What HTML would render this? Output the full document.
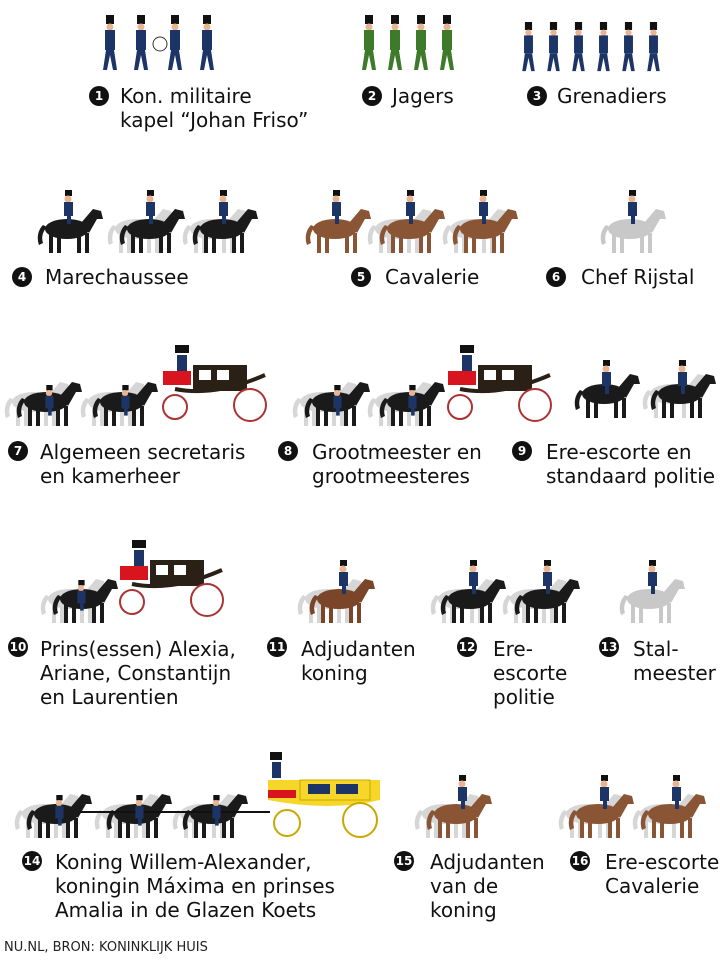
<!DOCTYPE html>
<html><head><meta charset="utf-8">
<style>
body{margin:0;width:720px;height:960px;background:#fff;position:relative;overflow:hidden;font-family:"DejaVu Sans","Liberation Sans",sans-serif;color:#111}
.l{position:absolute;font-size:20px;line-height:24px;white-space:nowrap}
.n{position:absolute;width:20px;height:20px;border-radius:50%;background:#111;color:#fff;font-size:12px;font-weight:bold;text-align:center;line-height:20px}
svg{position:absolute;left:0;top:0}
.f{position:absolute;left:4px;top:940px;font-size:13px;color:#222}
</style></head><body>
<svg width="720" height="960" viewBox="0 0 720 960">
<defs>
<symbol id="h" viewBox="0 0 70 50">
<path d="M8 20 C2 26 2 34 4 40 L8 38 C6 32 8 26 12 22Z"/>
<ellipse cx="32" cy="24" rx="22" ry="10"/>
<path d="M46 18 L58 4 L66 6 L68 14 L62 14 L54 28Z"/>
<rect x="14" y="28" width="4" height="20"/><rect x="22" y="28" width="4" height="20"/>
<rect x="42" y="28" width="4" height="20"/><rect x="50" y="28" width="4" height="20"/>
</symbol>
<symbol id="r" viewBox="0 0 20 40">
<rect x="7" y="0" width="7" height="6" fill="#111"/>
<circle cx="10" cy="9" r="3.5" fill="#e9b48f"/>
<rect x="6" y="12" width="9" height="14" fill="#1d3566"/>
<rect x="9" y="22" width="4" height="12" fill="#1d3566"/>
</symbol>
<symbol id="s" viewBox="0 0 14 56">
<rect x="3" y="0" width="8" height="9" fill="#111"/>
<circle cx="7" cy="12" r="3.5" fill="#e9b48f"/>
<rect x="2" y="15" width="10" height="20" fill="currentColor"/>
<path d="M3 35 L0 55 L4 55 L7 40 L10 55 L14 55 L11 35Z" fill="currentColor"/>
</symbol>
<symbol id="c" viewBox="0 0 120 80">
<rect x="20" y="0" width="14" height="8" fill="#111"/>
<rect x="22" y="10" width="10" height="16" fill="#1d3566"/>
<rect x="8" y="26" width="28" height="14" fill="currentColor"/>
<path d="M38 20 H92 V46 H38Z" fill="#2a2016"/>
<rect x="44" y="25" width="12" height="10" fill="#fff"/><rect x="62" y="25" width="12" height="10" fill="#fff"/>
<path d="M20 44 Q60 52 110 30" stroke="#2a2016" stroke-width="4" fill="none"/>
<circle cx="20" cy="62" r="12" fill="#fff" stroke="#a33" stroke-width="2"/>
<circle cx="95" cy="60" r="16" fill="#fff" stroke="#a33" stroke-width="2"/>
</symbol>
</defs>
<g color="#1d3566">
<use href="#s" x="103" y="15" width="14" height="56"/><use href="#s" x="134" y="15" width="14" height="56"/>
<use href="#s" x="168" y="15" width="14" height="56"/><use href="#s" x="200" y="15" width="14" height="56"/>
</g>
<circle cx="160" cy="44" r="7" fill="none" stroke="#333"/>
<g color="#3d7a2a">
<use href="#s" x="362" y="15" width="14" height="56"/><use href="#s" x="388" y="15" width="14" height="56"/>
<use href="#s" x="414" y="15" width="14" height="56"/><use href="#s" x="440" y="15" width="14" height="56"/>
</g>
<g color="#1d3566">
<use href="#s" x="522" y="22" width="13" height="50"/><use href="#s" x="547" y="22" width="13" height="50"/>
<use href="#s" x="572" y="22" width="13" height="50"/><use href="#s" x="597" y="22" width="13" height="50"/>
<use href="#s" x="622" y="22" width="13" height="50"/><use href="#s" x="647" y="22" width="13" height="50"/>
</g>
<g fill="#d6d6d6"><use href="#h" x="105" y="205" width="70" height="50"/><use href="#h" x="180" y="205" width="70" height="50"/><use href="#h" x="365" y="205" width="70" height="50"/><use href="#h" x="440" y="205" width="70" height="50"/></g>
<g fill="#1a1a1a"><use href="#h" x="35" y="205" width="70" height="50"/><use href="#h" x="117" y="205" width="70" height="50"/><use href="#h" x="190" y="205" width="70" height="50"/></g>
<g fill="#8a5535"><use href="#h" x="303" y="205" width="70" height="50"/><use href="#h" x="377" y="205" width="70" height="50"/><use href="#h" x="450" y="205" width="70" height="50"/></g>
<use href="#h" x="598" y="205" width="70" height="50" fill="#c8c8c8"/>
<g><use href="#r" x="58" y="190" width="20" height="40"/><use href="#r" x="140" y="190" width="20" height="40"/><use href="#r" x="213" y="190" width="20" height="40"/><use href="#r" x="326" y="190" width="20" height="40"/><use href="#r" x="400" y="190" width="20" height="40"/><use href="#r" x="473" y="190" width="20" height="40"/><use href="#r" x="622" y="190" width="20" height="40"/></g>
<g fill="#d6d6d6"><use href="#h" x="2" y="378" width="70" height="50"/><use href="#h" x="78" y="378" width="70" height="50"/><use href="#h" x="290" y="378" width="70" height="50"/><use href="#h" x="365" y="378" width="70" height="50"/><use href="#h" x="640" y="370" width="70" height="50"/></g>
<g fill="#1a1a1a"><use href="#h" x="14" y="378" width="70" height="50"/><use href="#h" x="90" y="378" width="70" height="50"/><use href="#h" x="302" y="378" width="70" height="50"/><use href="#h" x="377" y="378" width="70" height="50"/><use href="#h" x="572" y="370" width="70" height="50"/><use href="#h" x="648" y="370" width="70" height="50"/></g>
<use href="#c" x="155" y="345" width="120" height="80" color="#d8141e"/>
<use href="#c" x="440" y="345" width="120" height="80" color="#d8141e"/>
<g><use href="#r" x="40" y="385" width="18" height="36"/><use href="#r" x="116" y="385" width="18" height="36"/><use href="#r" x="328" y="385" width="18" height="36"/><use href="#r" x="403" y="385" width="18" height="36"/><use href="#r" x="596" y="360" width="20" height="40"/><use href="#r" x="672" y="360" width="20" height="40"/></g>
<g fill="#d6d6d6"><use href="#h" x="38" y="575" width="70" height="50"/><use href="#h" x="295" y="575" width="70" height="50"/><use href="#h" x="428" y="575" width="70" height="50"/><use href="#h" x="500" y="575" width="70" height="50"/></g>
<g fill="#1a1a1a"><use href="#h" x="50" y="575" width="70" height="50"/><use href="#h" x="438" y="575" width="70" height="50"/><use href="#h" x="512" y="575" width="70" height="50"/></g>
<use href="#h" x="307" y="575" width="70" height="50" fill="#7a4528"/>
<use href="#h" x="617" y="575" width="70" height="50" fill="#c8c8c8"/>
<use href="#c" x="112" y="540" width="120" height="80" color="#d8141e"/>
<g><use href="#r" x="72" y="580" width="18" height="36"/><use href="#r" x="333" y="560" width="20" height="40"/><use href="#r" x="463" y="560" width="20" height="40"/><use href="#r" x="537" y="560" width="20" height="40"/><use href="#r" x="642" y="560" width="20" height="40"/></g>
<g fill="#d6d6d6"><use href="#h" x="12" y="790" width="70" height="50"/><use href="#h" x="92" y="790" width="70" height="50"/><use href="#h" x="170" y="790" width="70" height="50"/><use href="#h" x="412" y="790" width="70" height="50"/><use href="#h" x="556" y="790" width="70" height="50"/><use href="#h" x="630" y="790" width="70" height="50"/></g>
<g fill="#1a1a1a"><use href="#h" x="24" y="790" width="70" height="50"/><use href="#h" x="104" y="790" width="70" height="50"/><use href="#h" x="180" y="790" width="70" height="50"/></g>
<g fill="#8a5535"><use href="#h" x="424" y="790" width="70" height="50"/><use href="#h" x="566" y="790" width="70" height="50"/><use href="#h" x="638" y="790" width="70" height="50"/></g>
<line x1="80" y1="812" x2="270" y2="812" stroke="#111" stroke-width="2"/>
<g>
<rect x="270" y="752" width="12" height="8" fill="#111"/><rect x="272" y="762" width="9" height="16" fill="#1d3566"/>
<path d="M268 780 H380 V800 Q330 812 268 800Z" fill="#f5d629"/>
<rect x="300" y="780" width="70" height="20" fill="#f5d629" stroke="#c9a800"/>
<rect x="308" y="784" width="22" height="10" fill="#1d3566"/><rect x="336" y="784" width="22" height="10" fill="#1d3566"/>
<rect x="268" y="790" width="28" height="8" fill="#d8141e"/>
<circle cx="287" cy="823" r="13" fill="#fff" stroke="#c9a800" stroke-width="2"/>
<circle cx="360" cy="820" r="17" fill="#fff" stroke="#c9a800" stroke-width="2"/>
</g>
<g><use href="#r" x="50" y="795" width="18" height="36"/><use href="#r" x="130" y="795" width="18" height="36"/><use href="#r" x="207" y="795" width="18" height="36"/><use href="#r" x="452" y="775" width="20" height="40"/><use href="#r" x="594" y="775" width="20" height="40"/><use href="#r" x="666" y="775" width="20" height="40"/></g>
</svg>

<div class="n" style="left:89px;top:86px">1</div><div class="l" style="left:120px;top:84px">Kon. militaire<br>kapel “Johan Friso”</div>
<div class="n" style="left:362px;top:86px">2</div><div class="l" style="left:392px;top:84px">Jagers</div>
<div class="n" style="left:527px;top:86px">3</div><div class="l" style="left:557px;top:84px">Grenadiers</div>
<div class="n" style="left:12px;top:267px">4</div><div class="l" style="left:45px;top:265px">Marechaussee</div>
<div class="n" style="left:351px;top:267px">5</div><div class="l" style="left:385px;top:265px">Cavalerie</div>
<div class="n" style="left:546px;top:267px">6</div><div class="l" style="left:581px;top:265px">Chef Rijstal</div>
<div class="n" style="left:8px;top:441px">7</div><div class="l" style="left:40px;top:440px">Algemeen secretaris<br>en kamerheer</div>
<div class="n" style="left:278px;top:441px">8</div><div class="l" style="left:312px;top:440px">Grootmeester en<br>grootmeesteres</div>
<div class="n" style="left:512px;top:441px">9</div><div class="l" style="left:546px;top:440px">Ere-escorte en<br>standaard politie</div>
<div class="n" style="left:8px;top:637px">10</div><div class="l" style="left:40px;top:637px">Prins(essen) Alexia,<br>Ariane, Constantijn<br>en Laurentien</div>
<div class="n" style="left:267px;top:637px">11</div><div class="l" style="left:301px;top:637px">Adjudanten<br>koning</div>
<div class="n" style="left:457px;top:637px">12</div><div class="l" style="left:493px;top:637px">Ere-<br>escorte<br>politie</div>
<div class="n" style="left:599px;top:637px">13</div><div class="l" style="left:633px;top:637px">Stal-<br>meester</div>
<div class="n" style="left:22px;top:851px">14</div><div class="l" style="left:55px;top:850px">Koning Willem-Alexander,<br>koningin Máxima en prinses<br>Amalia in de Glazen Koets</div>
<div class="n" style="left:394px;top:851px">15</div><div class="l" style="left:430px;top:850px">Adjudanten<br>van de<br>koning</div>
<div class="n" style="left:570px;top:851px">16</div><div class="l" style="left:605px;top:850px">Ere-escorte<br>Cavalerie</div>
<div class="f">NU.NL, BRON: KONINKLIJK HUIS</div>
</body></html>
